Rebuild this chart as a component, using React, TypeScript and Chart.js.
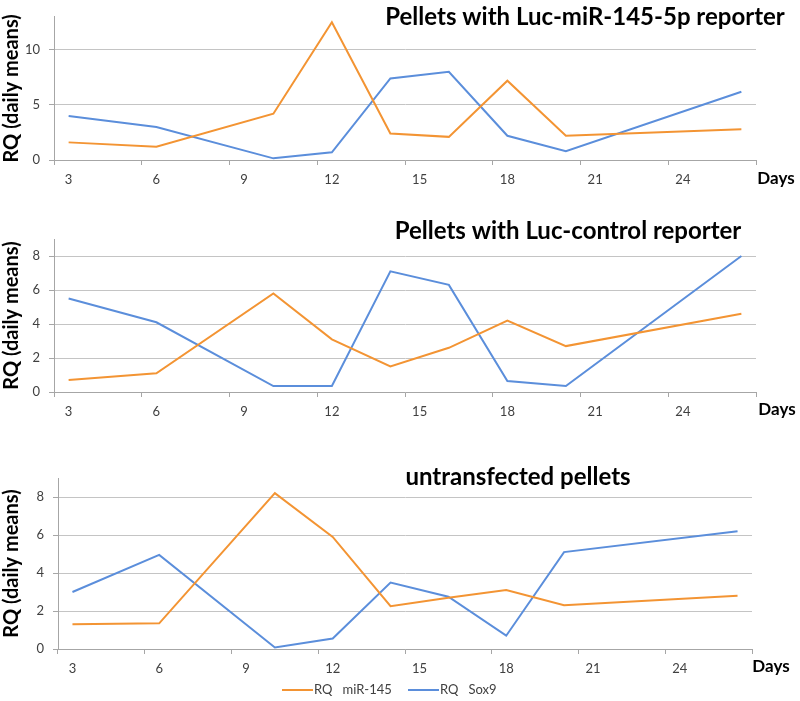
import React, { useEffect, useRef } from 'react';
import { Chart, registerables } from 'chart.js';

Chart.register(...registerables);

// ---- data ----
const dayCategories = ['3', '4', '5', '6', '7', '8', '9', '10', '11', '12', '13', '14', '15', '16', '17', '18', '19', '20', '21', '22', '23', '24', '25', '26'];
const labelledDays = ['3', '6', '9', '12', '15', '18', '21', '24'];
const sampleDays = ['3', '6', '10', '12', '14', '16', '18', '20', '26'];

const mirReporter = [1.6, 1.2, 4.2, 12.5, 2.4, 2.1, 7.2, 2.2, 2.8];
const sox9Reporter = [4.0, 3.0, 0.15, 0.7, 7.4, 8.0, 2.2, 0.8, 6.2];

const mirControl = [0.7, 1.1, 5.8, 3.1, 1.5, 2.6, 4.2, 2.7, 4.6];
const sox9Control = [5.5, 4.1, 0.35, 0.35, 7.1, 6.3, 0.65, 0.35, 8.0];

const mirUntransfected = [1.3, 1.35, 8.2, 5.9, 2.25, 2.7, 3.1, 2.3, 2.8];
const sox9Untransfected = [3.0, 4.95, 0.08, 0.55, 3.5, 2.75, 0.7, 5.1, 6.2];

const yTicksReporter = [0, 5, 10];
const yTicksSmall = [0, 2, 4, 6, 8];

const seriesNames = ['RQ   miR-145', 'RQ   Sox9'];
const panelTitles = ['Pellets with Luc-miR-145-5p reporter', 'Pellets with Luc-control reporter', 'untransfected pellets'];

const ORANGE = '#F39433';
const BLUE = '#5B8EDB';
const GRID = '#c4c4c4';
const AXIS = '#a6a6a6';
const TICK_TEXT = '#404040';
const FONT = 'Lato';

const textPlugin = {
  id: 'panelText',
  afterDraw(chart: any, _args: any, opts: any) {
    const ctx = chart.ctx;
    ctx.save();
    ctx.fillStyle = '#000';
    ctx.textAlign = 'center';
    ctx.textBaseline = 'middle';
    ctx.font = `bold ${opts.titleSize}px ${FONT}`;
    ctx.fillText(opts.title, opts.titleX, opts.titleY);
    ctx.font = `bold 17px ${FONT}`;
    ctx.fillText('Days', opts.daysX, opts.daysY);
    if (opts.legend) {
      const lg = opts.legend;
      ctx.font = `13px ${FONT}`;
      ctx.textAlign = 'left';
      chart.data.datasets.forEach((ds: any, i: number) => {
        const x = lg.xs[i];
        ctx.strokeStyle = ds.borderColor;
        ctx.lineWidth = 2;
        ctx.beginPath();
        ctx.moveTo(x, lg.y);
        ctx.lineTo(x + 31, lg.y);
        ctx.stroke();
        ctx.fillStyle = '#404040';
        ctx.fillText(ds.label, x + 32, lg.y);
      });
    }
    ctx.restore();
  },
};

type PanelProps = {
  top: number;
  height: number;
  area: { left: number; right: number; top: number; bottom: number };
  yMax: number;
  yTicks: number[];
  mir: number[];
  sox: number[];
  text: any;
};

function Panel(p: PanelProps) {
  const ref = useRef<HTMLCanvasElement | null>(null);
  useEffect(() => {
    if (!ref.current) return;
    const W = 800;
    const chart = new Chart(ref.current, {
      type: 'line',
      data: {
        labels: dayCategories,
        datasets: [
          {
            label: seriesNames[0],
            data: sampleDays.map((d, i) => ({ x: d, y: p.mir[i] })),
            borderColor: ORANGE,
            backgroundColor: ORANGE,
            borderWidth: 2,
            pointRadius: 0,
            tension: 0,
          },
          {
            label: seriesNames[1],
            data: sampleDays.map((d, i) => ({ x: d, y: p.sox[i] })),
            borderColor: BLUE,
            backgroundColor: BLUE,
            borderWidth: 2,
            pointRadius: 0,
            tension: 0,
          },
        ],
      },
      options: {
        responsive: false,
        animation: false,
        devicePixelRatio: 1,
        layout: { padding: { left: 0, top: p.area.top, right: W - p.area.right, bottom: 0 } },
        plugins: {
          legend: { display: false },
          tooltip: { enabled: false },
          panelText: p.text,
        } as any,
        scales: {
          x: {
            type: 'category',
            offset: true,
            grid: {
              offset: true,
              drawOnChartArea: false,
              drawTicks: true,
              tickLength: 5,
              color: (ctx: any) => (ctx.index === undefined || ctx.index % 3 === 0 ? AXIS : 'rgba(0,0,0,0)'),
            },
            border: { display: true, color: AXIS },
            ticks: {
              autoSkip: false,
              maxRotation: 0,
              minRotation: 0,
              padding: 7,
              color: TICK_TEXT,
              font: { family: FONT, size: 13 },
              callback: (_v: any, i: number) => (labelledDays.includes(dayCategories[i]) ? dayCategories[i] : ''),
            },
            afterFit: (s: any) => {
              s.height = p.height - p.area.bottom;
            },
          },
          y: {
            min: 0,
            max: p.yMax,
            afterBuildTicks: (s: any) => {
              s.ticks = p.yTicks.map((v) => ({ value: v }));
            },
            grid: { color: GRID, tickLength: 5, tickColor: AXIS },
            border: { display: true, color: AXIS },
            ticks: {
              padding: 9,
              color: TICK_TEXT,
              font: { family: FONT, size: 13 },
            },
            title: {
              display: true,
              text: 'RQ (daily means)',
              color: '#000',
              padding: 0,
              font: { family: FONT, size: 20, weight: 'bold' },
            },
            afterFit: (s: any) => {
              s.width = p.area.left;
            },
          },
        },
      } as any,
      plugins: [textPlugin],
    });
    return () => chart.destroy();
  }, []);
  return (
    <canvas
      ref={ref}
      width={800}
      height={p.height}
      style={{ position: 'absolute', left: 0, top: p.top, width: 800, height: p.height }}
    />
  );
}

export default function App() {
  return (
    <div style={{ position: 'absolute', left: 0, top: 0, width: 800, height: 701, background: '#fff', overflow: 'hidden' }}>
      <Panel
        top={0}
        height={200}
        area={{ left: 54, right: 756, top: 10, bottom: 160 }}
        yMax={13}
        yTicks={yTicksReporter}
        mir={mirReporter}
        sox={sox9Reporter}
        text={{ title: panelTitles[0], titleSize: 24, titleX: 585, titleY: 17, daysX: 776, daysY: 179 }}
      />
      <Panel
        top={200}
        height={230}
        area={{ left: 54, right: 756, top: 39, bottom: 192 }}
        yMax={9}
        yTicks={yTicksSmall}
        mir={mirControl}
        sox={sox9Control}
        text={{ title: panelTitles[1], titleSize: 24, titleX: 568, titleY: 31, daysX: 777, daysY: 210 }}
      />
      <Panel
        top={430}
        height={271}
        area={{ left: 58, right: 752, top: 48, bottom: 219 }}
        yMax={9}
        yTicks={yTicksSmall}
        mir={mirUntransfected}
        sox={sox9Untransfected}
        text={{
          title: panelTitles[2],
          titleSize: 24,
          titleX: 518,
          titleY: 47,
          daysX: 771,
          daysY: 237,
          legend: { y: 260, xs: [282, 408] },
        }}
      />
    </div>
  );
}
